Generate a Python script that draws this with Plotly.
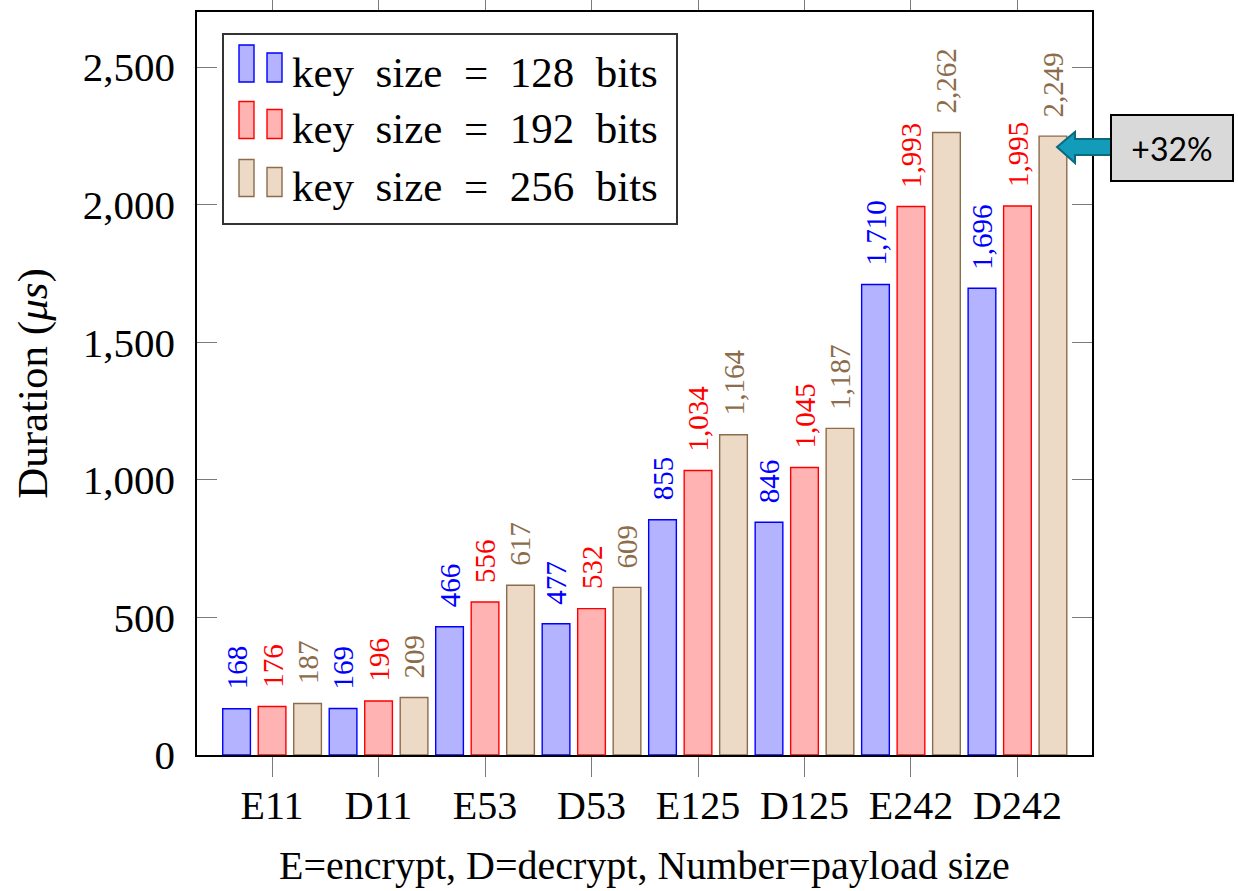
import plotly.graph_objects as go

# ---- data -------------------------------------------------------------
categories = ["E11", "D11", "E53", "D53", "E125", "D125", "E242", "D242"]
key128 = [168, 169, 466, 477, 855, 846, 1710, 1696]
key192 = [176, 196, 556, 532, 1034, 1045, 1993, 1995]
key256 = [187, 209, 617, 609, 1164, 1187, 2262, 2249]
series_names = ["key size = 128 bits", "key size = 192 bits", "key size = 256 bits"]
y_ticks = [0, 500, 1000, 1500, 2000, 2500]
callout_text = "+32%"

# ---- styling ----------------------------------------------------------
W, H = 1238, 891
M = dict(l=197, r=146, t=12, b=136)
SERIF = "Liberation Serif, Times New Roman, serif"

styles = [
    dict(fill="#b3b3ff", stroke="#0000ff", text="#0000ff"),
    dict(fill="#ffb3b3", stroke="#ff0000", text="#ff0000"),
    dict(fill="#ecdac7", stroke="#8c6c4a", text="#8c6c4a"),
]
series = [key128, key192, key256]


def px_x(px):
    return (px - M["l"]) / (W - M["l"] - M["r"])


def px_y(py):
    return (H - M["b"] - py) / (H - M["t"] - M["b"])


fig = go.Figure()
for name, vals, st in zip(series_names, series, styles):
    fig.add_trace(go.Bar(
        x=categories, y=vals, name=name,
        marker=dict(color=st["fill"], line=dict(color=st["stroke"], width=1.4)),
        showlegend=False, hoverinfo="skip",
    ))

annotations = []
shapes = []

# rotated value labels above each bar
n_series = len(series)
for k, (vals, st) in enumerate(zip(series, styles)):
    offset = (k - (n_series - 1) / 2) / n_series
    for i, v in enumerate(vals):
        annotations.append(dict(
            x=i + offset, y=v, xref="x", yref="y",
            text=f"{v:,}", textangle=-90, showarrow=False,
            xanchor="center", yanchor="bottom", yshift=17,
            font=dict(family=SERIF, size=29, color=st["text"]),
        ))

# legend box with paired bar glyphs
shapes.append(dict(type="rect", xref="paper", yref="paper",
                   x0=px_x(223), x1=px_x(677), y0=px_y(224), y1=px_y(34),
                   line=dict(color="#333333", width=2), fillcolor="white",
                   layer="above"))
row_bottom = [82, 138.5, 196.5]
for r, (name, st) in enumerate(zip(series_names, styles)):
    yb = row_bottom[r]
    shapes.append(dict(type="rect", xref="paper", yref="paper",
                       x0=px_x(239), x1=px_x(254), y0=px_y(yb), y1=px_y(yb - 37),
                       line=dict(color=st["stroke"], width=1.4),
                       fillcolor=st["fill"], layer="above"))
    shapes.append(dict(type="rect", xref="paper", yref="paper",
                       x0=px_x(267), x1=px_x(282), y0=px_y(yb), y1=px_y(yb - 29),
                       line=dict(color=st["stroke"], width=1.4),
                       fillcolor=st["fill"], layer="above"))
    annotations.append(dict(
        x=px_x(290), y=px_y(yb - 10), xref="paper", yref="paper",
        text=name.replace(" ", "\u2002"), showarrow=False,
        xanchor="left", yanchor="middle",
        font=dict(family=SERIF, size=43, color="black"),
    ))

# callout arrow pointing at the last bar, plus its label box
arrow_pts = [(1057, 147), (1075, 132), (1075, 139), (1112, 139),
             (1112, 155), (1075, 155), (1075, 163)]
path = "M " + " L ".join(f"{px_x(a):.5f},{px_y(b):.5f}" for a, b in arrow_pts) + " Z"
shapes.append(dict(type="path", xref="paper", yref="paper", path=path,
                   fillcolor="#139cb9", line=dict(color="#0c6a80", width=2),
                   layer="above"))
annotations.append(dict(
    x=px_x(1110), y=px_y(147.5), xref="paper", yref="paper",
    text=callout_text, showarrow=False, xanchor="left", yanchor="middle",
    width=120, height=64, bgcolor="#d9d9d9", bordercolor="black",
    borderwidth=2, borderpad=0,
    font=dict(family="Lato, Open Sans, sans-serif", size=32, color="black"),
))

fig.update_layout(
    width=W, height=H, margin=M,
    paper_bgcolor="white", plot_bgcolor="white",
    barmode="group", bargap=0, bargroupgap=0.22,
    font=dict(family=SERIF, color="black"),
    annotations=annotations, shapes=shapes,
    xaxis=dict(
        type="category", range=[-0.705, 7.70], automargin=False,
        ticks="outside", ticklen=20, tickwidth=1, tickcolor="#7a7a7a",
        showline=True, linecolor="black", linewidth=1.5, mirror="ticks",
        showgrid=False, tickfont=dict(family=SERIF, size=40),
        ticklabelstandoff=-6,
        title=dict(text="E=encrypt, D=decrypt, Number=payload size",
                   font=dict(family=SERIF, size=40), standoff=24),
    ),
    yaxis=dict(
        range=[0, 2700], tickvals=y_ticks, tickformat=",", automargin=False,
        ticks="inside", ticklen=20, tickwidth=1, tickcolor="#7a7a7a",
        showline=True, linecolor="black", linewidth=1.5, mirror="ticks",
        showgrid=False, zeroline=False, ticklabelstandoff=12,
        tickfont=dict(family=SERIF, size=41),
        title=dict(text="Duration (<i>μs</i>)",
                   font=dict(family=SERIF, size=43), standoff=22),
    ),
)

fig.write_html("out.html")
